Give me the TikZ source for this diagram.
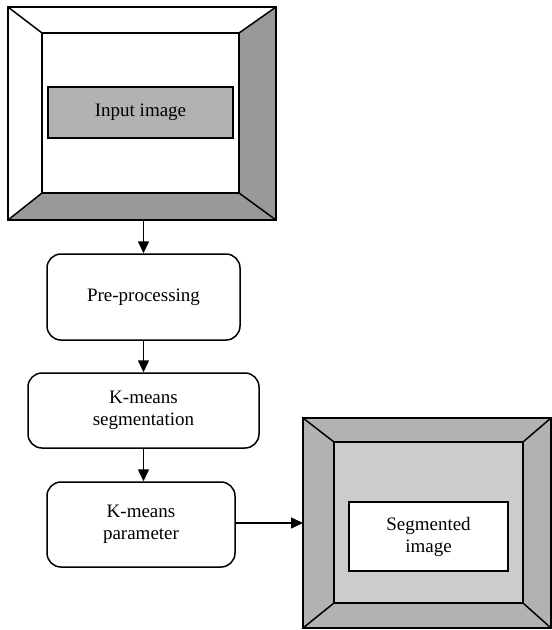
\documentclass[tikz,border=0pt]{standalone}
\usepackage{fontspec}
\setmainfont{Liberation Serif}
\usetikzlibrary{arrows.meta}
\begin{document}
\begin{tikzpicture}[x=1pt,y=-1pt,>={Triangle[length=12pt,width=11pt]},
        line width=1.5pt, line join=miter,
        font=\fontsize{19}{22}\selectfont,
        stepbox/.style={draw,rounded corners=14pt,align=center,inner sep=0pt},
        framebox/.style={inner sep=0pt,outer sep=0pt},
        imgbox/.style={draw,align=center,inner sep=0pt}]
    \useasboundingbox (0,0) rectangle (552,630);
    \definecolor{lightbevel}{gray}{0.70}
    \definecolor{darkbevel}{gray}{0.60}
    \definecolor{innergray}{gray}{0.80}
    % input picture frame
    \node[framebox,minimum width=268pt,minimum height=213pt] (inFrame) at (142,113.5) {};
    \coordinate (iA) at (42,33); \coordinate (iB) at (239,33);
    \coordinate (iC) at (239,193); \coordinate (iD) at (42,193);
    \fill[darkbevel] (inFrame.north east) -- (inFrame.south east) -- (iC) -- (iB) -- cycle;
    \fill[darkbevel] (inFrame.south west) -- (inFrame.south east) -- (iC) -- (iD) -- cycle;
    \draw (inFrame.north west) rectangle (inFrame.south east);
    \draw (iA) rectangle (iC);
    \draw (inFrame.north west) -- (iA) (inFrame.north east) -- (iB)
          (inFrame.south east) -- (iC) (inFrame.south west) -- (iD);
    \node[imgbox,fill=lightbevel,minimum width=185pt,minimum height=51pt] (input) at (140.5,112.5) {Input image};
    % processing steps
    \node[stepbox,minimum width=193pt,minimum height=86pt] (pre) at (143.5,297) {Pre-processing};
    \node[stepbox,minimum width=231pt,minimum height=75pt] (kseg) at (143.5,410.5) {K-means\\segmentation};
    \node[stepbox,minimum width=188pt,minimum height=85pt] (kpar) at (141,524.5) {K-means\\parameter};
    % output picture frame
    \node[framebox,minimum width=248pt,minimum height=210pt] (segFrame) at (427,523) {};
    \coordinate (sA) at (334,442); \coordinate (sB) at (523,442);
    \coordinate (sC) at (523,603); \coordinate (sD) at (334,603);
    \fill[lightbevel] (segFrame.north west) rectangle (segFrame.south east);
    \fill[innergray] (sA) rectangle (sC);
    \draw (segFrame.north west) rectangle (segFrame.south east);
    \draw (sA) rectangle (sC);
    \draw (segFrame.north west) -- (sA) (segFrame.north east) -- (sB)
          (segFrame.south east) -- (sC) (segFrame.south west) -- (sD);
    \node[imgbox,fill=white,minimum width=159pt,minimum height=69pt] (segimg) at (428.5,536.5) {Segmented\\image};
    % connectors
    \draw[->] (inFrame.south -| pre.north) -- (pre.north);
    \draw[->] (pre.south) -- (kseg.north -| pre.south);
    \draw[->] (kseg.south -| pre.south) -- (kpar.north -| pre.south);
    \draw[->] (kpar.east |- segFrame.west) -- (segFrame.west);
\end{tikzpicture}
\end{document}
